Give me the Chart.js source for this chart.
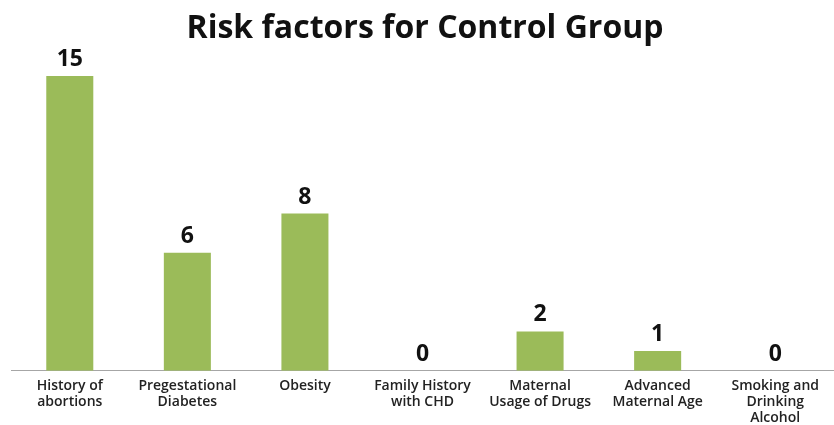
<!DOCTYPE html>
<html>
<head>
<meta charset="utf-8">
<script src="https://cdn.jsdelivr.net/npm/chart.js@4"></script>
<style>
  html, body { margin: 0; padding: 0; background: #fff; }
  #wrap { width: 834px; height: 425px; }
</style>
</head>
<body>
<div id="wrap"><canvas id="grafico-riesgo"></canvas></div>
<script>
// Datos del gráfico
var categorias = [
  ["History of", "abortions"],
  ["Pregestational", "Diabetes"],
  ["Obesity"],
  ["Family History", "with CHD"],
  ["Maternal", "Usage of Drugs"],
  ["Advanced", "Maternal Age"],
  ["Smoking and", "Drinking", "Alcohol"]
];
var valores = [15, 6, 8, 0, 2, 1, 0];
var titulo = "Risk factors for Control Group";

// Plugin sencillo para poner el valor encima de cada barra
var etiquetasValor = {
  id: "etiquetasValor",
  afterDatasetsDraw: function (chart) {
    var ctx = chart.ctx;
    var meta = chart.getDatasetMeta(0);
    ctx.save();
    ctx.font = "bold 23px 'Open Sans'";
    ctx.fillStyle = "#111";
    ctx.textAlign = "center";
    ctx.textBaseline = "bottom";
    meta.data.forEach(function (bar, i) {
      ctx.fillText(valores[i], bar.x, bar.y - 5);
    });
    ctx.restore();
  }
};

var ctx = document.getElementById("grafico-riesgo").getContext("2d");

var myBarChart = new Chart(ctx, {
  type: "bar",
  data: {
    labels: categorias,
    datasets: [
      {
        data: valores,
        backgroundColor: "#9BBB59",
        barPercentage: 0.4,
        categoryPercentage: 1.0
      }
    ]
  },
  options: {
    responsive: true,
    maintainAspectRatio: false,
    animation: false,
    layout: { padding: { left: 11, right: -5, top: 10, bottom: -8 } },
    plugins: {
      legend: { display: false },
      tooltip: { enabled: false },
      title: {
        display: true,
        text: titulo,
        color: "#111",
        font: { family: "Open Sans", size: 32, weight: "bold" },
        padding: { top: 0, bottom: 8 }
      }
    },
    scales: {
      x: {
        grid: { display: false, drawTicks: false },
        border: { display: true, color: "#a6a6a6", width: 1 },
        ticks: {
          color: "#222",
          font: { family: "Open Sans", size: 14, weight: "600", lineHeight: 1.15 },
          padding: 7,
          maxRotation: 0,
          autoSkip: false
        }
      },
      y: {
        display: false,
        min: 0,
        max: 16
      }
    }
  },
  plugins: [etiquetasValor]
});
</script>
</body>
</html>
